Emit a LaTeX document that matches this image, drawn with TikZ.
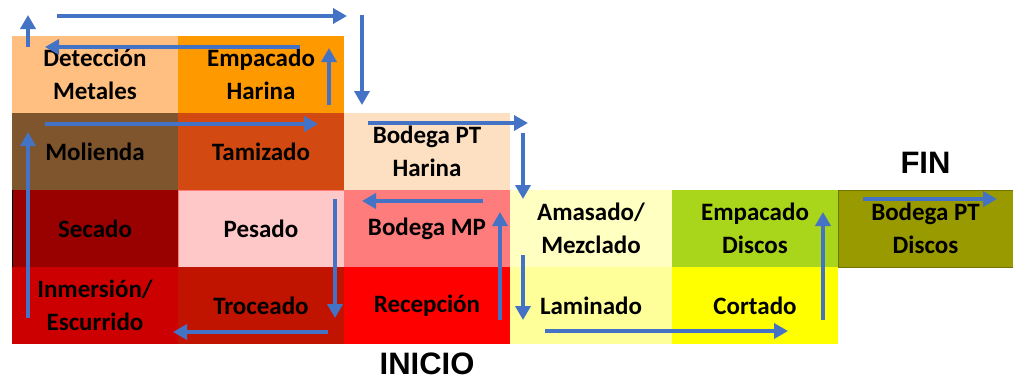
\documentclass[tikz,border=0pt]{standalone}
\usepackage{fontspec}
\setmainfont{Carlito}
\newfontfamily\titlefont{Liberation Sans}
\usetikzlibrary{positioning, arrows.meta}

\definecolor{flowblue}{HTML}{4472C4}
\definecolor{cDet}{HTML}{FFBF80}
\definecolor{cEmpH}{HTML}{FF9900}
\definecolor{cMol}{HTML}{7F552E}
\definecolor{cTam}{HTML}{D24A12}
\definecolor{cBpth}{HTML}{FDDFC2}
\definecolor{cSec}{HTML}{990000}
\definecolor{cPes}{HTML}{FFC8C8}
\definecolor{cBmp}{HTML}{FF7C7C}
\definecolor{cInm}{HTML}{CC0000}
\definecolor{cTro}{HTML}{C01400}
\definecolor{cRec}{HTML}{FF0000}
\definecolor{cAma}{HTML}{FFFFC2}
\definecolor{cLam}{HTML}{FFFF99}
\definecolor{cEmpD}{HTML}{A9D51A}
\definecolor{cCor}{HTML}{FFFF00}
\definecolor{cBptd}{HTML}{999900}

\tikzset{x=1pt, y=-1pt, >={Triangle[length=14pt,width=15pt]},
cell/.style={minimum width=166pt, minimum height=77pt, inner sep=0pt, outer sep=0pt,
  align=center, font=\bfseries\fontsize{25}{33}\selectfont},
flow/.style={->, line width=4pt, draw=flowblue},
title/.style={font=\titlefont\bfseries\fontsize{31}{36}\selectfont, inner sep=0pt},
}

\begin{document}
\begin{tikzpicture}
\useasboundingbox (0,0) rectangle (1013,380);
    % grid of stations
    \node[cell, fill=cDet, anchor=north west] (det) at (12,36) {Detección\\Metales};
    \node[cell, fill=cEmpH, right=0pt of det] (empH) {Empacado\\Harina};
    \node[cell, fill=cMol, below=0pt of det] (mol) {Molienda};
    \node[cell, fill=cTam, right=0pt of mol] (tam) {Tamizado};
    \node[cell, fill=cBpth, right=0pt of tam] (bpth) {Bodega PT\\Harina};
    \node[cell, fill=cSec, below=0pt of mol] (sec) {Secado};
    \node[cell, fill=cPes, draw=cBmp, line width=0.6pt, right=0pt of sec] (pes) {Pesado};
    \node[cell, fill=cBmp, right=0pt of pes] (bmp) {Bodega MP};
    \node[cell, fill=cAma, minimum width=162pt, right=0pt of bmp] (ama) {Amasado/\\Mezclado};
    \node[cell, fill=cEmpD, right=0pt of ama] (empD) {Empacado\\Discos};
    \node[cell, fill=cBptd, draw=cBptd!75!black, line width=1pt, minimum width=175pt, right=0pt of empD] (bptd) {Bodega PT\\Discos};
    \node[cell, fill=cInm, below=0pt of sec] (inm) {Inmersión/\\Escurrido};
    \node[cell, fill=cTro, right=0pt of inm] (tro) {Troceado};
    \node[cell, fill=cRec, right=0pt of tro] (rec) {Recepción};
    \node[cell, fill=cLam, minimum width=162pt, right=0pt of rec] (lam) {Laminado};
    \node[cell, fill=cCor, right=0pt of lam] (cor) {Cortado};
    \draw[black, line width=1pt] (sec.north west) -- (sec.south west);

    \node[title, anchor=base] (ini) at ([yshift=-30pt]rec.south) {INICIO};
    \node[title, anchor=base] (fin) at ([yshift=17pt]bptd.north) {FIN};

    % flow of the process
    \draw[flow] ([shift={(-10,-24)}]rec.south east) -- ([shift={(-10,22)}]bmp.north east);
    \draw[flow] ([shift={(-27,11)}]bmp.north east) -- ([shift={(18,11)}]bmp.north west);
    \draw[flow] ([shift={(-9,9)}]pes.north east) -- ([shift={(-9,-26)}]tro.south east);
    \draw[flow] ([shift={(-16,-12)}]tro.south east) -- ([shift={(-5,-12)}]tro.south west);
    \draw[flow] ([shift={(16,51)}]inm.north west) -- ([shift={(16,19)}]mol.north west);
    \draw[flow] ([shift={(33,11)}]mol.north west) -- ([shift={(-26,11)}]tam.north east);
    \draw[flow] ([shift={(-15,69)}]empH.north east) -- ([shift={(-15,12)}]empH.north east);
    \draw[flow] ([shift={(122,11)}]empH.north west) -- ([shift={(33,11)}]det.north west);
    \draw[flow] ([shift={(16,11)}]det.north west) -- ([shift={(16,-21)}]det.north west);
    \draw[flow] ([shift={(45,-20)}]det.north west) -- ([shift={(3,-20)}]empH.north east);
    \draw[flow] ([shift={(18,-21)}]empH.north east) -- ([shift={(18,-8)}]bpth.north west);
    \draw[flow] ([shift={(24,10)}]bpth.north west) -- ([shift={(18,10)}]bpth.north east);
    \draw[flow] ([shift={(13,20)}]bpth.north east) -- ([shift={(13,9)}]ama.north west);
    \draw[flow] ([shift={(13,65)}]ama.north west) -- ([shift={(13,-24)}]lam.south west);
    \draw[flow] ([shift={(35,-13)}]lam.south west) -- ([shift={(116,-13)}]cor.south west);
    \draw[flow] ([shift={(-15,-24)}]cor.south east) -- ([shift={(-15,22)}]empD.north east);
    \draw[flow] ([shift={(25,9)}]bptd.north west) -- ([shift={(-16,9)}]bptd.north east);
\end{tikzpicture}
\end{document}
